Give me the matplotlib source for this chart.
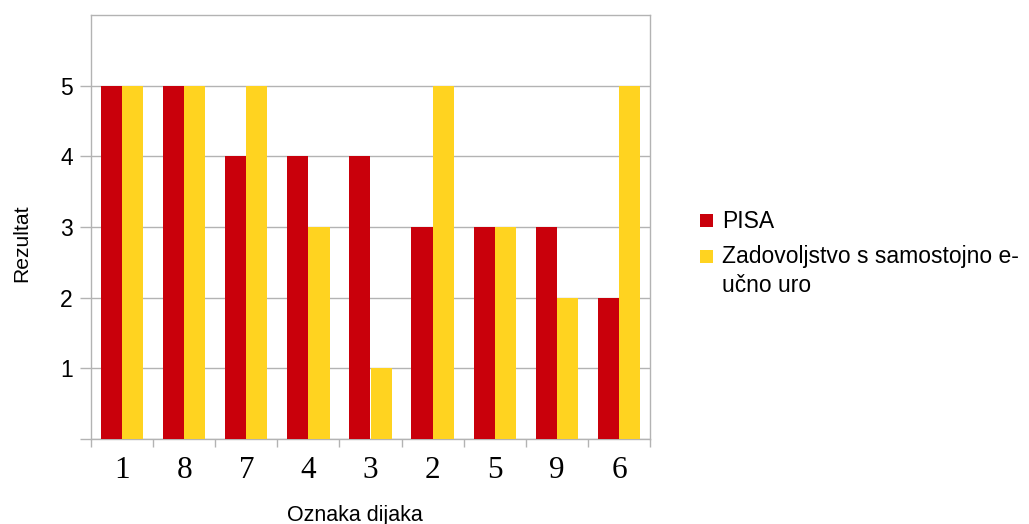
import matplotlib
matplotlib.use("Agg")
import matplotlib.pyplot as plt
from matplotlib.patches import Rectangle
import numpy as np

# Data
students = ["1", "8", "7", "4", "3", "2", "5", "9", "6"]
pisa = [5, 5, 4, 4, 4, 3, 3, 3, 2]
satisfaction = [5, 5, 5, 3, 1, 5, 3, 2, 5]
series_names = ["PISA", "Zadovoljstvo s samostojno e-\nučno uro"]

RED = "#c9000b"
YELLOW = "#ffd320"
GRID = "#b3b3b3"

W, H = 1029, 524
fig = plt.figure(figsize=(W / 100, H / 100), dpi=100)
ax = fig.add_axes([91 / W, 1 - 439 / H, (650 - 91) / W, (439 - 15) / H])

x = np.arange(len(students))
w = 0.34
ax.bar(x - w / 2, pisa, width=w, color=RED, zorder=3)
ax.bar(x + w / 2, satisfaction, width=w, color=YELLOW, zorder=3)

ax.set_xlim(-0.5, len(students) - 0.5)
ax.set_ylim(0, 6)

# y axis
ax.set_yticks(range(0, 6))
ax.set_yticklabels([""] + [str(v) for v in range(1, 6)],
                   fontfamily="Liberation Sans", fontsize=16.5)
ax.tick_params(axis="y", length=8, width=1, color=GRID, pad=5)
ax.yaxis.grid(True, color=GRID, linewidth=1, zorder=0)

# x axis: boundaries as tick marks, labels centred in each slot
ax.set_xticks(x)
ax.set_xticklabels(students, fontfamily="Liberation Serif", fontsize=22.5)
ax.tick_params(axis="x", which="major", length=0, pad=12)
ax.set_xticks(np.arange(-0.5, len(students)), minor=True)
ax.tick_params(axis="x", which="minor", length=6, width=1, color=GRID)

for s in ax.spines.values():
    s.set_color(GRID)
    s.set_linewidth(1)

fig.text(22 / W, 1 - 243 / H, "Rezultat", rotation=90, ha="center", va="center",
         fontfamily="Liberation Sans", fontsize=15.2)
fig.text(355 / W, 1 - 515 / H, "Oznaka dijaka", ha="center", va="center",
         fontfamily="Liberation Sans", fontsize=15.5)

# legend drawn as squares with labels beside them
legend_items = [(RED, 214, 221, series_names[0]), (YELLOW, 250, 257, series_names[1])]
line_step = 28
for color, top, yc, label in legend_items:
    fig.patches.append(Rectangle((700 / W, 1 - (top + 13) / H), 13 / W, 13 / H,
                                 transform=fig.transFigure, facecolor=color,
                                 edgecolor="none"))
    for i, line in enumerate(label.split("\n")):
        fig.text(722 / W, 1 - (yc + i * line_step) / H, line, ha="left", va="center",
                 fontfamily="Liberation Sans", fontsize=16.5)

fig.savefig("out.png", dpi=100)
